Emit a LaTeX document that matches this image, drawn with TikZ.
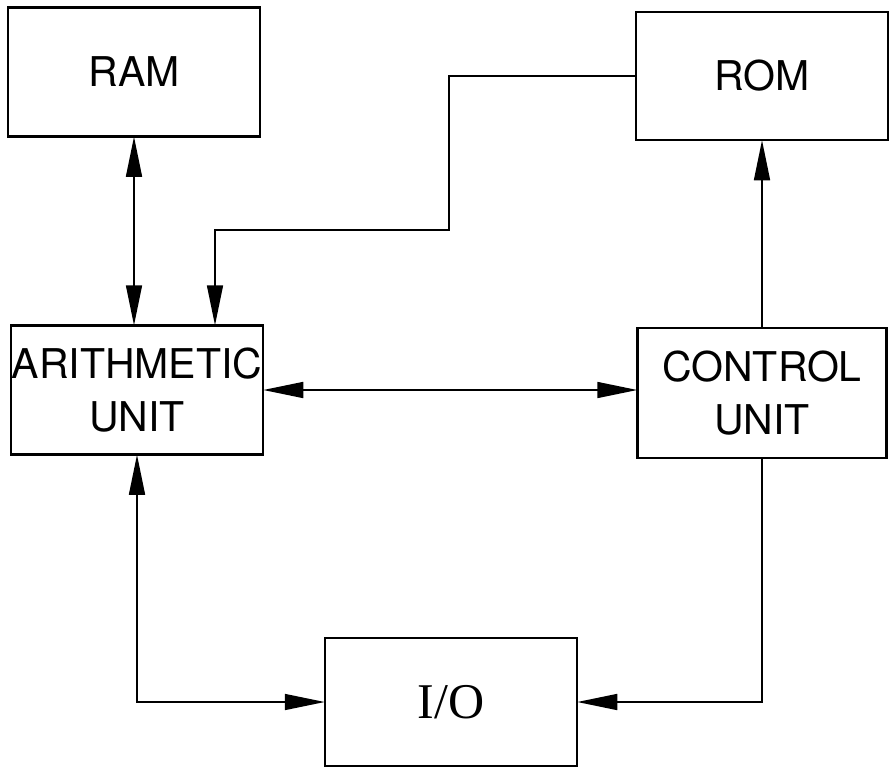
\documentclass[tikz,border=0pt]{standalone}
\usepackage{fontspec}
\setmainfont{TeX Gyre Heros}
\newfontfamily\iofont{Liberation Serif}
\usetikzlibrary{arrows.meta}

\begin{document}
\begin{tikzpicture}[
    x=1pt, y=-1pt,
    block/.style={rectangle, draw, line width=2.5pt, inner sep=0pt, minimum width=252pt, minimum height=129pt, align=center, font=\fontsize{41}{53}\selectfont},
    bus/.style={line width=1.6pt, >={Triangle[length=40pt, width=16pt]}, shorten >=-1pt, shorten <=-1pt}
]
\useasboundingbox (0,0) rectangle (891,771);

\node[block] (ram) at (134,72) {RAM};
\node[block, minimum height=128pt] (rom) at (762,76) {ROM};
\node[block] (au) at (137,390) {ARITHMETIC\\UNIT};
\node[block, minimum width=249pt, minimum height=130pt] (cu) at (762,393) {CONTROL\\UNIT};
\node[block, minimum height=128pt, font=\iofont\fontsize{50}{56}\selectfont] (io) at (451,702) {I/O};

\coordinate (romtap) at (449,230);

\draw[bus, <->] (ram.south) -- (ram.south |- au.north);
\draw[bus, ->] (rom.west) -| (romtap) -| ([xshift=78pt]au.north);
\draw[bus, <->] (au.east) -- (au.east -| cu.west);
\draw[bus, ->] (cu.north) -- (cu.north |- rom.south);
\draw[bus, <->] (au.south) |- (io.west);
\draw[bus, ->] (cu.south) |- (io.east);

\end{tikzpicture}
\end{document}
